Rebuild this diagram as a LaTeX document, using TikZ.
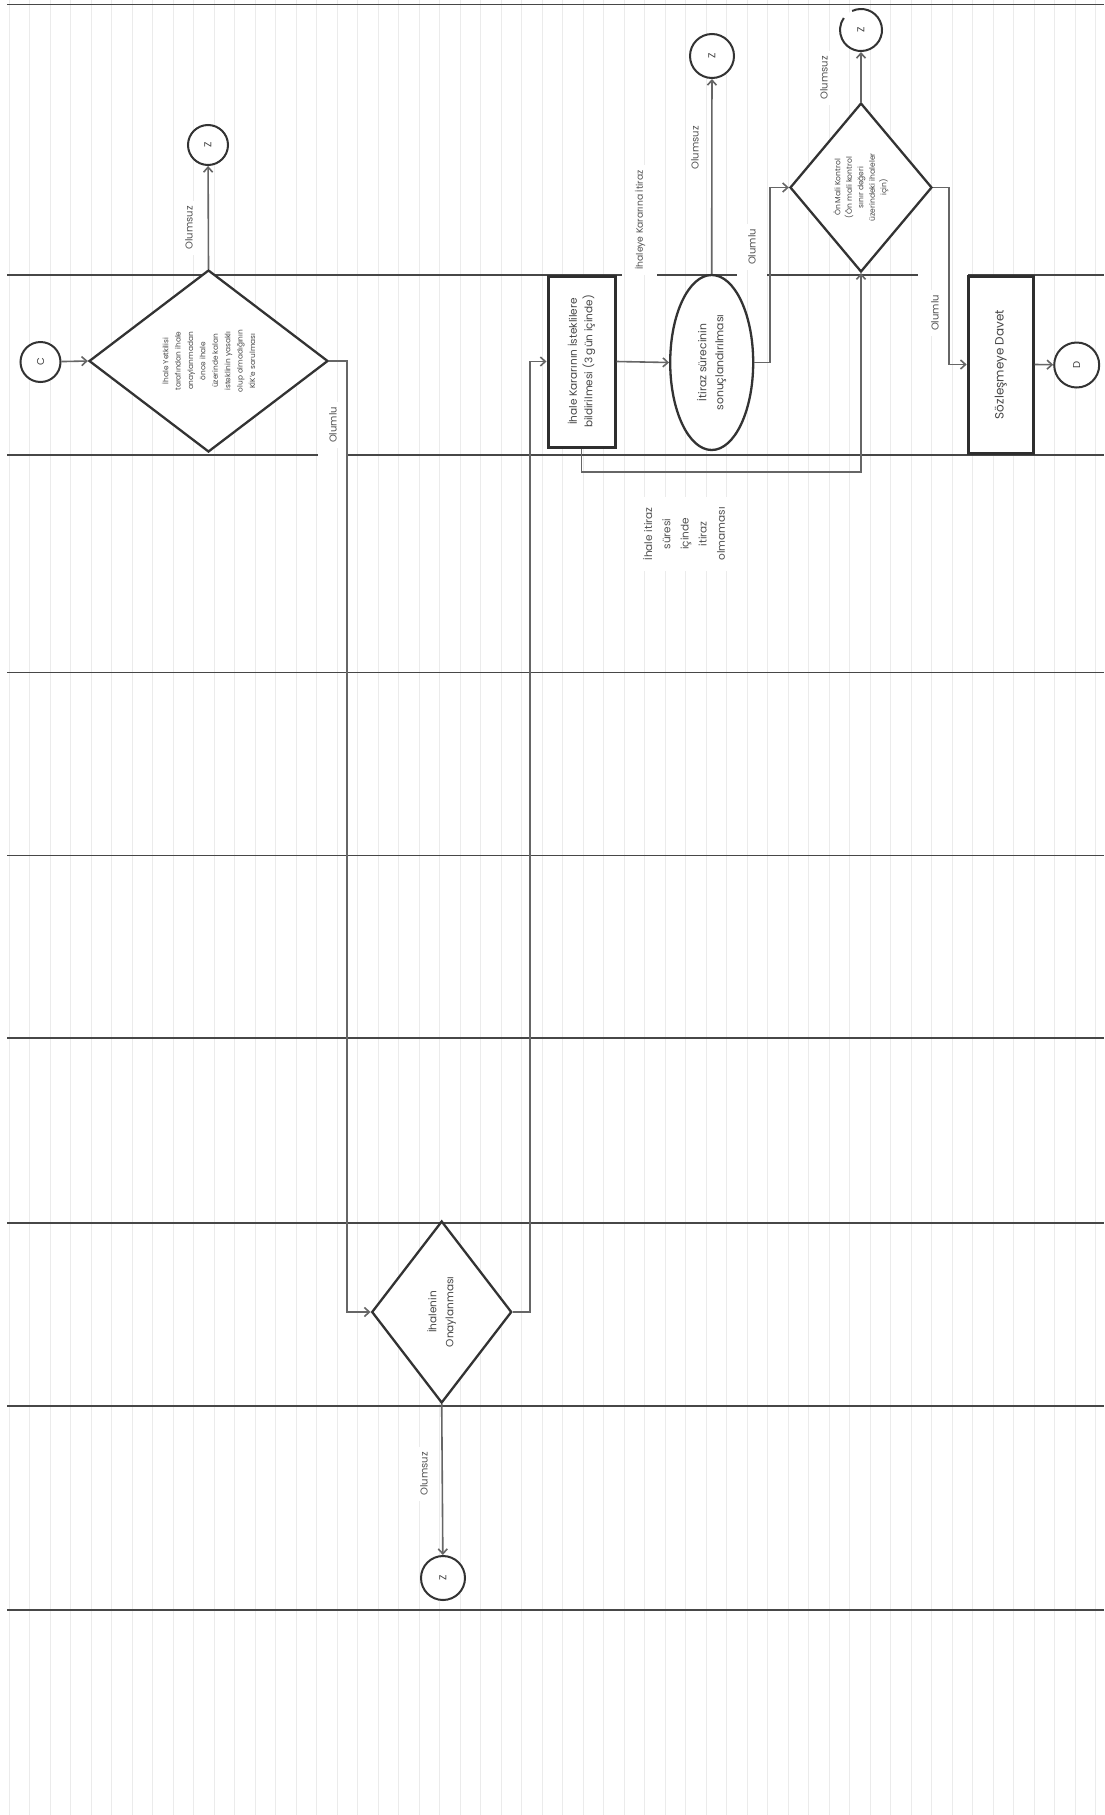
\documentclass[tikz,border=0pt]{standalone}
\usepackage{fontspec}
\setmainfont{Poppins}
\usetikzlibrary{shapes.geometric,arrows.meta}
\tikzset{
  rule/.style={draw=black!8, line width=0.9pt},
  laneline/.style={draw=black!72, line width=1.7pt},
  dia/.style={diamond, draw=black!80, line width=2.3pt, fill=white, inner sep=0pt},
  boxnode/.style={rectangle, draw=black!82, line width=3pt, fill=white, inner sep=0pt},
  ell/.style={ellipse, draw=black!80, line width=2.3pt, fill=white, inner sep=0pt},
  circ/.style={circle, draw=black!80, line width=2pt, fill=white, inner sep=0pt, rotate=90, text=black!75, font=\fontsize{10}{12}\selectfont},
  conn/.style={draw=black!60, line width=1.6pt, -{Straight Barb[length=5pt,width=9pt]}},
  lbl/.style={rotate=90, fill=white, text=black!68, inner sep=5pt, font=\fontsize{10}{12}\selectfont},
  txt/.style={rotate=90, text=black!72, align=center, inner sep=0pt}
}
\begin{document}
\begin{tikzpicture}[x=1pt,y=-1pt]
\useasboundingbox (0,0) rectangle (1104,1815);
\fill[white] (0,0) rectangle (1104,1815);
% ruled paper lines
\foreach \i in {0,...,53} \draw[rule] ({9.3+20.5*\i},0) -- ++(0,1815);
% lane lines
\draw[laneline] (7,4.5) -- (1104,4.5);
\draw[laneline] (7,275) -- (622,275);
\draw[laneline] (657,275) -- (737,275);
\draw[laneline] (767,275) -- (918,275);
\draw[laneline] (968,275) -- (1104,275);
\draw[laneline] (7,455) -- (318,455);
\draw[laneline] (348,455) -- (1104,455);
\foreach \yy in {672.5,855.5,1038,1223,1406,1610} \draw[laneline] (7,\yy) -- (1104,\yy);

% shapes
\node[dia, minimum width=239pt, minimum height=182pt] (d1) at (208.5,361) {};
\node[dia, minimum width=140pt, minimum height=182pt] (d2) at (441.7,1312) {};
\node[dia, minimum width=142pt, minimum height=169pt] (d3) at (861,187.5) {};
\node[boxnode, minimum width=67pt, minimum height=171pt] (r1) at (581.5,361.5) {};
\node[ell, minimum width=83pt, minimum height=175pt] (e1) at (711.7,362.5) {};
\node[boxnode, minimum width=65pt, minimum height=177pt] (r2) at (1000.7,364.5) {};
\node[circ, minimum size=40pt] (c) at (40.5,362) {C};
\node[circ, minimum size=40pt] (z1) at (208,145) {Z};
\node[circ, minimum size=44pt] (z2) at (712,56) {Z};
\node[circ, draw=none, minimum size=42pt] (z3) at (861,30) {Z};
\draw[draw=black!80, line width=2pt] (z3.center) ++(245:21) arc[start angle=245, end angle=575, radius=21];
\node[circ, minimum size=44pt] (z4) at (443,1578) {Z};
\node[circ, minimum size=45pt] (dd) at (1076.7,365) {D};

% texts in shapes
\node[txt, font=\fontsize{7.4}{12.4}\selectfont] (t1) at (d1) {İhale Yetkilisi\\tarafından ihale\\onaylanmadan\\önce ihale\\üzerinde kalan\\isteklinin yasaklı\\olup olmadığının\\KİK'e sorulması};
\node[txt, font=\fontsize{10.5}{17}\selectfont] (t2) at (d2) {İhalenin\\Onaylanması};
\node[txt, font=\fontsize{7.6}{11.5}\selectfont] (t3) at (d3) {Ön Mali Kontrol\\(Ön mali kontrol\\sınır değeri\\üzerindeki ihaleler\\için)};
\node[txt, font=\fontsize{10.5}{15.5}\selectfont] (t4) at (r1) {İhale Kararının İsteklilere\\bildirilmesi (3 gün içinde)};
\node[txt, font=\fontsize{10.8}{17}\selectfont] (t5) at (e1) {İtiraz sürecinin\\sonuçlandırılması};
\node[txt, font=\fontsize{12}{14}\selectfont] (t6) at (r2) {Sözleşmeye Davet};

% junction coordinates
\coordinate (j1) at (347,361);
\coordinate (j2) at (530,1312);
\coordinate (j3) at (770,362.5);
\coordinate (j4) at (949,187.5);
\coordinate (j5) at (581.5,472);

% connectors
\draw[conn] (c) -- (d1.west);
\draw[conn] (d1.north) -- (z1);
\draw[conn] (d1.east) -- (j1) |- (d2.west);
\draw[conn] (d2.south) -- (z4);
\draw[conn] (d2.east) -- (j2) |- (r1.west);
\draw[conn] (r1.east) -- (e1.west);
\draw[conn] (e1.north) -- (z2);
\draw[conn] (e1.east) -- (j3) |- (d3.west);
\draw[conn] (d3.north) -- (z3);
\draw[conn] (d3.east) -- (j4) |- (r2.west);
\draw[conn] (r2.east) -- (dd);
\draw[conn] (r1.south) -- (j5) -| (d3.south);

% labels
\node[lbl] (lo1) at (189,228) {Olumsuz};
\node[lbl] (lo2) at (333,425) {Olumlu};
\node[lbl, font=\fontsize{9.2}{11}\selectfont] (lo3) at (640,220) {İhaleye Kararına İtiraz};
\node[lbl] (lo4) at (695,148) {Olumsuz};
\node[lbl] (lo5) at (752,247) {Olumlu};
\node[lbl] (lo6) at (824,78) {Olumsuz};
\node[lbl] (lo7) at (935,313) {Olumlu};
\node[lbl, align=center, inner sep=10pt, font=\fontsize{10.5}{18.2}\selectfont] (lo8) at (684,534) {İhale itiraz\\süresi\\içinde\\itiraz\\olmaması};
\node[lbl] (lo9) at (424,1474) {Olumsuz};
\end{tikzpicture}
\end{document}
